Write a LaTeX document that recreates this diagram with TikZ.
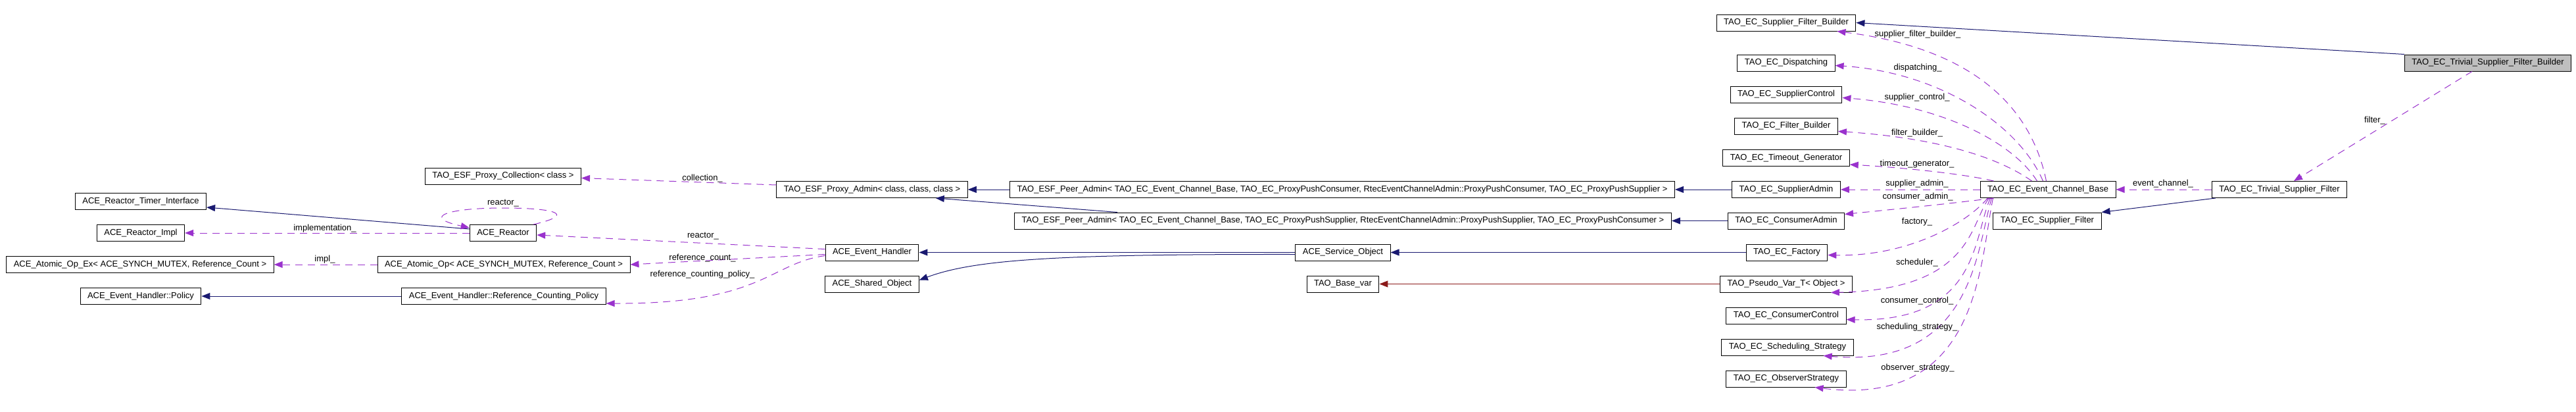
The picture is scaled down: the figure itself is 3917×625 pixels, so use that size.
\documentclass[tikz,border=0pt]{standalone}
\usepackage{fontspec}
\setmainfont{Liberation Sans}
\usetikzlibrary{positioning,arrows.meta,calc}
\definecolor{cInh}{HTML}{191970}
\definecolor{cUse}{HTML}{9A32CD}
\definecolor{cTpl}{HTML}{8B1A1A}

\begin{document}
\begin{tikzpicture}[
  x=1pt, y=-1pt,
  font=\fontsize{13}{15}\selectfont,
  cls/.style={draw=black, line width=1pt, fill=white, inner xsep=11pt,
              inner ysep=0pt, minimum height=25pt},
  cur/.style={cls, fill=black!25},
  lbl/.style={inner sep=1pt},
  tip/.style={-{Triangle[length=13pt,width=10pt]}},
  inh/.style={tip, draw=cInh, line width=1pt},
  tpl/.style={tip, draw=cTpl, line width=1pt},
  use/.style={tip, draw=cUse, line width=1pt, dash pattern=on 11pt off 8pt},
]
\path[use as bounding box, fill=white] (0,0) rectangle (3917,625);

% ACE side
\node[cls] (timer)    at (214,306)   {ACE\_Reactor\_Timer\_Interface};
\node[cls] (rimpl)    at (214,354)   {ACE\_Reactor\_Impl};
\node[cls] (atomex)   at (213,402)   {ACE\_Atomic\_Op\_Ex< ACE\_SYNCH\_MUTEX, Reference\_Count >};
\node[cls] (ehpolicy) at (214,450)   {ACE\_Event\_Handler::Policy};
\node[cls] (pcoll)    at (765,267.5) {TAO\_ESF\_Proxy\_Collection< class >};
\node[cls] (reactor)  at (765,354)   {ACE\_Reactor};
\node[cls] (atom)     at (766,402)   {ACE\_Atomic\_Op< ACE\_SYNCH\_MUTEX, Reference\_Count >};
\node[cls] (rcpolicy) at (766,450)   {ACE\_Event\_Handler::Reference\_Counting\_Policy};
\node[cls] (padmin)   at (1326,288)  {TAO\_ESF\_Proxy\_Admin< class, class, class >};
\node[cls] (evh)      at (1326,383.5){ACE\_Event\_Handler};
\node[cls] (shobj)    at (1326,431.5){ACE\_Shared\_Object};
\node[cls] (peerc)    at (2041,288)
  {TAO\_ESF\_Peer\_Admin< TAO\_EC\_Event\_Channel\_Base, TAO\_EC\_ProxyPushConsumer, RtecEventChannelAdmin::ProxyPushConsumer, TAO\_EC\_ProxyPushSupplier >};
\node[cls] (peers)    at (2042,335.5)
  {TAO\_ESF\_Peer\_Admin< TAO\_EC\_Event\_Channel\_Base, TAO\_EC\_ProxyPushSupplier, RtecEventChannelAdmin::ProxyPushSupplier, TAO\_EC\_ProxyPushConsumer >};
\node[cls] (svcobj)   at (2042,383.5){ACE\_Service\_Object};
\node[cls] (basevar)  at (2042,431.5){TAO\_Base\_var};

% event channel members
\node[cls] (sfb)      at (2716,34.5) {TAO\_EC\_Supplier\_Filter\_Builder};
\node[cls] (disp)     at (2716,95.5) {TAO\_EC\_Dispatching};
\node[cls] (supctl)   at (2716,143.5){TAO\_EC\_SupplierControl};
\node[cls] (fbuild)   at (2716,191.5){TAO\_EC\_Filter\_Builder};
\node[cls] (timeout)  at (2716,240)  {TAO\_EC\_Timeout\_Generator};
\node[cls] (supadm)   at (2716,288)  {TAO\_EC\_SupplierAdmin};
\node[cls] (conadm)   at (2716,335.5){TAO\_EC\_ConsumerAdmin};
\node[cls] (factory)  at (2717,383.5){TAO\_EC\_Factory};
\node[cls] (pseudo)   at (2716,431.5){TAO\_Pseudo\_Var\_T< Object >};
\node[cls] (conctl)   at (2716,479.5){TAO\_EC\_ConsumerControl};
\node[cls] (schedst)  at (2718,527.5){TAO\_EC\_Scheduling\_Strategy};
\node[cls] (obsst)    at (2716,575.5){TAO\_EC\_ObserverStrategy};
\node[cls] (ecbase)   at (3114,288)  {TAO\_EC\_Event\_Channel\_Base};
\node[cls] (supfilt)  at (3113,335.5){TAO\_EC\_Supplier\_Filter};
\node[cls] (trivfilt) at (3466,288)  {TAO\_EC\_Trivial\_Supplier\_Filter};
\node[cur] (trivbld)  at (3783,95.5) {TAO\_EC\_Trivial\_Supplier\_Filter\_Builder};

% inheritance
\foreach \a/\b in {rcpolicy/ehpolicy, peerc/padmin, svcobj/evh, factory/svcobj,
                   supadm/peerc, conadm/peers}{
  \draw[inh] (\a.west) -- (\b.east);}
\draw[inh] ($(reactor.west)+(0,-6)$) -- ($(timer.south east)+(0,-4)$);
\draw[inh] ($(peers.north west)+(157,0)$) -- ($(padmin.south east)+(-49,0)$);
\draw[inh] ($(svcobj.west)+(0,3)$) .. controls (1600,386) and (1480,395)
  .. ($(shobj.east)+(0,-6)$);
\draw[inh] (trivbld.north west) -- (sfb.east);
\draw[inh] ($(trivfilt.south west)+(6,0)$) -- (supfilt.north east);
\draw[tpl] (pseudo.west) -- (basevar.east);

% members, ACE side
\draw[use] ($(padmin.west)+(0,-7)$) -- ($(pcoll.east)+(0,3)$);
\draw[use] ($(reactor.north east)+(-5,0)$) .. controls (880,325) and (840,316)
  .. (765,316) .. controls (680,316) and (640,330) .. ($(reactor.north west)+(0,5)$);
\draw[use] (reactor.west) -- (rimpl.east);
\draw[use] ($(evh.west)+(0,-5)$) -- ($(reactor.east)+(0,3)$);
\draw[use] ($(evh.west)+(0,3)$) -- (atom.east);
\draw[use] ($(evh.west)+(0,5)$) .. controls (1170,400) and (1160,462)
  .. ($(rcpolicy.east)+(0,11)$);
\draw[use] (atom.west) -- (atomex.east);

\node[lbl] (lcoll)  at (1068,271) {collection\_};
\node[lbl] (lself)  at (765,309)  {reactor\_};
\node[lbl] (limpl)  at (494,347)  {implementation\_};
\node[lbl] (lreac)  at (1069,359) {reactor\_};
\node[lbl] (lrcnt)  at (1068,392) {reference\_count\_};
\node[lbl] (limpl2) at (494,394)  {impl\_};
\node[lbl] (lrcpol) at (1068,417) {reference\_counting\_policy\_};

% members, event channel
\draw[use] ($(ecbase.north west)+(101,0)$) .. controls (3090,170) and (3010,75)
  .. ($(sfb.south east)+(-29,0)$);
\draw[use] ($(ecbase.north west)+(96,0)$) .. controls (3070,190) and (2950,110)
  .. ($(disp.east)+(0,4)$);
\draw[use] ($(ecbase.north west)+(87,0)$) .. controls (3060,215) and (2950,160)
  .. ($(supctl.east)+(0,5)$);
\draw[use] ($(ecbase.north west)+(79,0)$) .. controls (3040,240) and (2950,210)
  .. ($(fbuild.east)+(0,8)$);
\draw[use] ($(ecbase.north west)+(21,0)$) .. controls (2990,265) and (2900,255)
  .. ($(timeout.east)+(0,10)$);
\draw[use] (ecbase.west) -- (supadm.east);
\draw[use] ($(ecbase.south west)+(21,0)$) .. controls (2960,310) and (2880,318)
  .. ($(conadm.east)+(0,-10)$);
\draw[use] ($(ecbase.south west)+(12,0)$) .. controls (2990,340) and (2900,390)
  .. ($(factory.east)+(0,4)$);
\draw[use] ($(ecbase.south west)+(14,0)$) .. controls (2995,340) and (3000,440)
  .. ($(pseudo.south east)+(-33,0)$);
\draw[use] ($(ecbase.south west)+(16,0)$) .. controls (3000,360) and (3010,490)
  .. ($(conctl.east)+(0,6)$);
\draw[use] ($(ecbase.south west)+(18,0)$) .. controls (3005,380) and (3000,560)
  .. ($(schedst.south east)+(-46,0)$);
\draw[use] ($(ecbase.south west)+(20,0)$) .. controls (3010,400) and (3010,620)
  .. ($(obsst.south east)+(-48,0)$);
\draw[use] (trivfilt.west) -- (ecbase.east);
\draw[use] ($(trivbld.south)+(-24,0)$) -- ($(trivfilt.north)+(22,0)$);

\node[lbl] (lsfb)   at (2916,52)  {supplier\_filter\_builder\_};
\node[lbl] (ldisp)  at (2916,103) {dispatching\_};
\node[lbl] (lsctl)  at (2915,148) {supplier\_control\_};
\node[lbl] (lfb)    at (2915,202) {filter\_builder\_};
\node[lbl] (ltg)    at (2915,249) {timeout\_generator\_};
\node[lbl] (lsadm)  at (2915,279) {supplier\_admin\_};
\node[lbl] (lcadm)  at (2916,299) {consumer\_admin\_};
\node[lbl] (lfac)   at (2915,337) {factory\_};
\node[lbl] (lsch)   at (2915,399) {scheduler\_};
\node[lbl] (lcctl)  at (2915,457) {consumer\_control\_};
\node[lbl] (lsst)   at (2915,497) {scheduling\_strategy\_};
\node[lbl] (lost)   at (2916,559) {observer\_strategy\_};
\node[lbl] (lec)    at (3289,279) {event\_channel\_};
\node[lbl] (lfilt)  at (3611,183) {filter\_};
\end{tikzpicture}
\end{document}
